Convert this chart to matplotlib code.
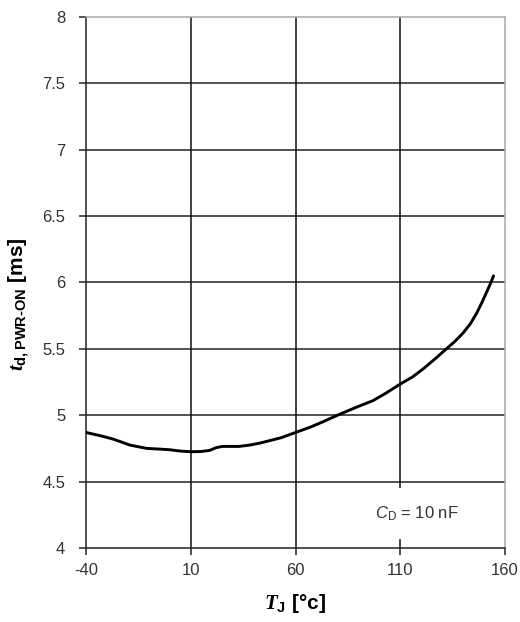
import matplotlib
matplotlib.use("Agg")
import matplotlib.pyplot as plt

# Data
temp_c = [-40, -33, -27, -19, -11, -5, 0, 5, 10, 15, 19, 22, 25, 33, 38, 43,
          48, 53, 60, 67, 73, 80, 89, 97, 103, 110, 116, 121, 127, 132, 136,
          140, 143.5, 146.5, 149, 151, 153, 154.5]
t_pwr_on = [4.87, 4.845, 4.82, 4.775, 4.75, 4.745, 4.74, 4.73, 4.725, 4.727,
            4.735, 4.755, 4.765, 4.765, 4.775, 4.79, 4.81, 4.83, 4.87, 4.91,
            4.95, 5.0, 5.06, 5.11, 5.165, 5.235, 5.29, 5.35, 5.43, 5.5, 5.555,
            5.62, 5.69, 5.77, 5.85, 5.92, 5.99, 6.05]

x_ticks = [-40, 10, 60, 110, 160]
y_ticks = [4, 4.5, 5, 5.5, 6, 6.5, 7, 7.5, 8]
y_labels = ["4", "4.5", "5", "5.5", "6", "6.5", "7", "7.5", "8"]

plt.rcParams['font.family'] = ['Liberation Sans', 'DejaVu Sans']
plt.rcParams['axes.unicode_minus'] = False
plt.rcParams['mathtext.fontset'] = 'custom'
plt.rcParams['mathtext.rm'] = 'Liberation Sans'
plt.rcParams['mathtext.it'] = 'Liberation Sans:italic'
plt.rcParams['mathtext.bf'] = 'Liberation Sans:bold'
plt.rcParams['mathtext.bfit'] = 'Liberation Serif:italic:bold'

fig = plt.figure(figsize=(5.2, 6.22), dpi=100)
ax = fig.add_axes([0.1654, 0.119, 0.8058, 0.8537])

# grid: horizontal at every tick, vertical only inside
for y in y_ticks[1:-1]:
    ax.axhline(y, color='#222222', lw=1.1, zorder=1)
for x in x_ticks[1:-1]:
    ax.axvline(x, color='#111111', lw=1.1, zorder=1)

ax.plot(temp_c, t_pwr_on, color='black', lw=2.1, zorder=3,
        solid_capstyle='round', solid_joinstyle='round')

ax.set_xlim(-40, 160)
ax.set_ylim(4, 8)
ax.set_xticks(x_ticks)
ax.set_yticks(y_ticks)
ax.set_yticklabels(y_labels)
ax.tick_params(axis='both', labelsize=12, labelcolor='#333333',
               color='#222222', length=5, width=1.1, direction='out')
ax.tick_params(axis='y', pad=10)
ax.tick_params(axis='x', pad=6)

for side in ['left', 'bottom']:
    ax.spines[side].set_color('#222222')
    ax.spines[side].set_linewidth(1.1)
for side in ['top', 'right']:
    ax.spines[side].set_color('#a8a8a8')
    ax.spines[side].set_linewidth(1.1)

ax.set_xlabel(r'$\mathbfit{T}_{\mathbf{J}}$ [°c]', fontsize=15,
              fontweight='bold', labelpad=10)
ax.set_ylabel(r'$\mathbfit{t}_{\mathbf{d,PWR‐ON}}$ [ms]', fontsize=15,
              fontweight='bold')
ax.yaxis.set_label_coords(-0.128, 0.46)

ax.text(118, 4.26, r'$C_{\mathrm{D}}$ = 10 nF', fontsize=12, color='#333333',
        ha='center', va='center', zorder=4,
        bbox=dict(boxstyle='square,pad=0.95', fc='white', ec='none'))

fig.savefig('out.png', dpi=100)
